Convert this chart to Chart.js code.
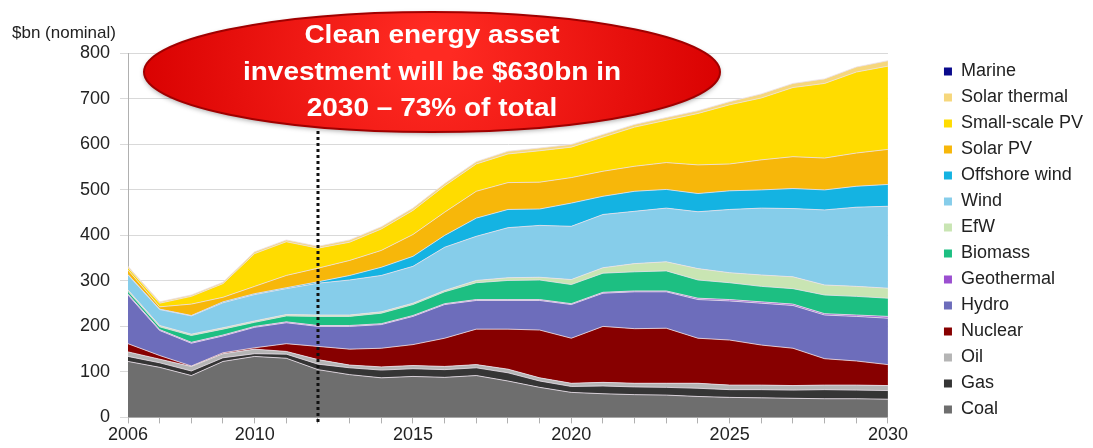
<!DOCTYPE html>
<html>
<head>
<meta charset="utf-8">
<script src="https://cdn.jsdelivr.net/npm/chart.js@4.4.1/dist/chart.umd.min.js"></script>
<style>
  html, body { margin: 0; padding: 0; background: #fff; }
  #wrap { width: 1093px; height: 448px; }
</style>
</head>
<body>
<div id="wrap"><canvas id="areaChart" width="1093" height="448"></canvas></div>
<script>
// investment by technology, $bn nominal
const years = ['2006','2007','2008','2009','2010','2011','2012','2013','2014','2015','2016','2017','2018',
  '2019','2020','2021','2022','2023','2024','2025','2026','2027','2028','2029','2030'];
const shownYears = ['2006','2010','2015','2020','2025','2030'];
const yTicks = [0, 100, 200, 300, 400, 500, 600, 700, 800];

const coal     = [123,110, 92,123,134,130,105, 94, 87, 90, 88, 92, 80, 66, 55, 52, 50, 49, 46, 44, 43, 42, 41, 41, 40];
const gas      = [ 11, 10, 10,  8,  6,  9, 12, 15, 17, 17, 17, 17, 18, 14, 13, 17, 17, 17, 18, 17, 18, 18, 20, 19, 19];
const oil      = [ 10,  8, 10,  9, 10,  6, 10,  6,  7,  7,  7,  7,  8,  7,  7,  8,  8,  9, 11, 10, 10, 10, 10, 11, 11];
const nuclear  = [ 18,  8,  1,  2,  3, 17, 29, 35, 41, 46, 62, 78, 88,105, 99,123,120,121, 99, 99, 88, 82, 58, 53, 46];
const hydro    = [107, 55, 50, 37, 45, 46, 44, 50, 52, 62, 74, 63, 63, 65, 74, 73, 81, 80, 85, 86, 92, 94, 96, 98,102];
const geo      = [  2,  2,  2,  2,  2,  2,  2,  2,  2,  2,  2,  2,  2,  2,  2,  2,  2,  2,  3,  3,  3,  3,  3,  3,  4];
const biomass  = [  6,  6, 15, 13,  9, 13, 20, 20, 23, 24, 26, 37, 42, 43, 42, 42, 42, 44, 40, 37, 34, 34, 41, 41, 40];
const efw      = [  3,  3,  3,  3,  3,  3,  3,  3,  3,  3,  3,  5,  6,  6, 11, 12, 18, 20, 25, 22, 25, 26, 22, 22, 22];
const wind     = [ 33, 35, 40, 55, 58, 57, 70, 77, 80, 81, 95, 97,110,114,117,117,115,118,125,139,147,150,165,174,180];
const offshore = [  1,  1,  1,  2,  2,  2,  3, 10, 18, 22, 26, 40, 40, 36, 51, 40, 44, 41, 40, 41, 40, 44, 44, 46, 48];
const solarPV  = [ 10,  5, 25, 10, 16, 27, 30, 33, 37, 48, 51, 59, 59, 59, 56, 55, 55, 59, 63, 59, 66, 70, 70, 73, 77];
const smallPV  = [  5,  8, 17, 30, 72, 74, 44, 40, 47, 53, 58, 60, 63, 69, 67, 75, 86, 93,113,130,136,152,164,178,183];
const solarTh  = [  3,  3,  3,  3,  4,  4,  4,  5,  5,  5,  5,  5,  6,  6,  6,  6,  6,  6,  6,  7,  9,  9, 10, 11, 12];
const marine   = [  0,  0,  0,  0,  0,  0,  0,  0,  0,  0,  0,  0,  0,  0,  0,  0,  0,  0,  0,  0,  0,  0,  0,  0,  0];

const seriesNames = ['Coal','Gas','Oil','Nuclear','Hydro','Geothermal','Biomass','EfW','Wind',
  'Offshore wind','Solar PV','Small-scale PV','Solar thermal','Marine'];
const seriesData = [coal, gas, oil, nuclear, hydro, geo, biomass, efw, wind, offshore, solarPV, smallPV, solarTh, marine];
const seriesColors = ['#6e6e6e','#353535','#b5b5b5','#870000','#6d6dbb','#9b4fd0','#1dbf82','#c9e5b3',
  '#86cdea','#14b3e2','#f7b70a','#ffdc00','#f6d77c','#0a0a8c'];

var datasets = seriesNames.map(function(name, i) {
  return {
    label: name,
    data: seriesData[i],
    backgroundColor: seriesColors[i],
    borderColor: name == 'Marine' ? 'rgba(0,0,0,0)' : 'rgba(235,225,235,0.8)',
    borderWidth: name == 'Marine' ? 0 : 1,
    fill: i == 0 ? 'origin' : '-1',
    pointRadius: 0,
    tension: 0
  };
});

// red callout and the dotted 2012 marker
var calloutPlugin = {
  id: 'callout',
  afterDatasetsDraw: function(chart) {
    var c = chart.ctx;
    var x = chart.scales.x.getPixelForValue(years.indexOf('2012'));
    c.save();
    c.strokeStyle = '#111';
    c.lineWidth = 3;
    c.setLineDash([3, 3]);
    c.beginPath();
    c.moveTo(x, 131);
    c.lineTo(x, chart.chartArea.bottom + 5);
    c.stroke();
    c.restore();
  },
  afterDraw: function(chart) {
    var c = chart.ctx;
    var cx = 432, cy = 72;
    c.save();
    c.shadowColor = 'rgba(0,0,0,0.35)';
    c.shadowBlur = 5;
    c.shadowOffsetY = 2;
    var grad = c.createRadialGradient(cx, cy - 25, 20, cx, cy, 300);
    grad.addColorStop(0, '#ff2a22');
    grad.addColorStop(1, '#d80000');
    c.fillStyle = grad;
    c.beginPath();
    c.ellipse(cx, cy, 288, 60, 0, 0, Math.PI * 2);
    c.fill();
    c.shadowColor = 'transparent';
    c.strokeStyle = '#a00000';
    c.lineWidth = 2;
    c.stroke();
    // the source text is a little wide, so stretch it sideways
    c.translate(cx, 0);
    c.scale(1.12, 1);
    c.fillStyle = '#ffffff';
    c.font = 'bold 25px "Liberation Sans", Arial, sans-serif';
    c.textAlign = 'center';
    c.textBaseline = 'middle';
    c.fillText('Clean energy asset', 0, 36);
    c.fillText('investment will be $630bn in', 0, 73);
    c.fillText('2030 \u2013 73% of total', 0, 109);
    c.restore();
  }
};

var ctx = document.getElementById('areaChart').getContext('2d');
var myChart = new Chart(ctx, {
  type: 'line',
  data: { labels: years, datasets: datasets },
  options: {
    responsive: false,
    animation: false,
    devicePixelRatio: 1,
    layout: { padding: { left: 12, right: 0, top: 0, bottom: 1 } },
    scales: {
      x: {
        offset: false,
        grid: { display: true, drawOnChartArea: false, tickLength: 6, color: '#b0b0b0' },
        border: { color: '#b0b0b0' },
        ticks: {
          autoSkip: false, maxRotation: 0, color: '#222', padding: 1,
          font: { size: 18, family: '"Liberation Sans", Arial, sans-serif' },
          callback: function(val, idx) {
            var lab = years[idx];
            return shownYears.indexOf(lab) >= 0 ? lab : '';
          }
        }
      },
      y: {
        stacked: true,
        min: 0, max: 800,
        afterBuildTicks: function(axis) { axis.ticks = yTicks.map(function(v) { return { value: v }; }); },
        afterFit: function(axis) { axis.width = 116; },
        grid: { color: '#d9d9d9', tickLength: 8 },
        border: { color: '#b0b0b0' },
        ticks: { color: '#222', padding: 10, font: { size: 18, family: '"Liberation Sans", Arial, sans-serif' } }
      },
      // empty spacer between the plot and the legend
      gap: {
        type: 'linear', position: 'right', display: true,
        grid: { display: false, drawOnChartArea: false },
        border: { display: false },
        ticks: { display: false },
        afterFit: function(axis) { axis.width = 48; }
      }
    },
    plugins: {
      title: {
        display: true, text: '$bn (nominal)', align: 'start', color: '#222',
        font: { size: 17, weight: 'normal', family: '"Liberation Sans", Arial, sans-serif' },
        padding: { top: 23, bottom: 10 }
      },
      legend: {
        position: 'right',
        reverse: true,
        title: { display: true, text: ' ', font: { size: 10 }, padding: 11 },
        labels: {
          boxWidth: 8, boxHeight: 8, padding: 8, color: '#222',
          font: { size: 18, family: '"Liberation Sans", Arial, sans-serif' },
          generateLabels: function(chart) {
            var items = Chart.defaults.plugins.legend.labels.generateLabels(chart);
            items.forEach(function(it) { it.strokeStyle = it.fillStyle; it.lineWidth = 0; });
            return items;
          }
        }
      },
      tooltip: { enabled: false }
    }
  },
  plugins: [calloutPlugin]
});
</script>
</body>
</html>
